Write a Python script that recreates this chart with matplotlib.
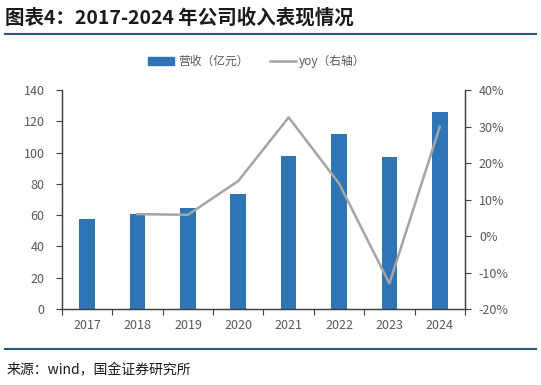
import matplotlib.pyplot as plt
from matplotlib.lines import Line2D
from matplotlib.patches import Patch
from matplotlib.ticker import FuncFormatter

plt.rcParams['font.family'] = ['Noto Sans CJK SC', 'DejaVu Sans']

years = ['2017', '2018', '2019', '2020', '2021', '2022', '2023', '2024']
revenue = [57.6, 60.8, 64.4, 73.6, 97.6, 111.9, 97.0, 125.7]    # 营收（亿元）
yoy = [None, 6.0, 5.8, 15.1, 32.5, 14.4, -13.0, 29.9]           # %

fig = plt.figure(figsize=(5.41, 3.85), dpi=100)
ax = fig.add_axes([0.1146, 0.1974, 0.7449, 0.5688])
ax2 = ax.twinx()

x = list(range(len(years)))
ax.bar(x, revenue, width=0.31, color='#2E75B6', zorder=2)
ax.set_xlim(-0.5, len(years) - 0.5)
ax.set_ylim(0, 140)
ax.set_yticks(range(0, 141, 20))
# ticks sit between categories, labels under the bars
ax.set_xticks([i - 0.5 for i in range(len(years) + 1)])
ax.set_xticklabels([])
ax.set_xticks(x, minor=True)
ax.set_xticklabels(years, minor=True)
ax.tick_params(axis='x', which='major', length=4, width=0.8, color='#404040')
ax.tick_params(axis='x', which='minor', length=0, pad=7, labelsize=9, labelcolor='#595959')
ax.tick_params(axis='y', length=4, width=0.8, color='#404040', labelsize=9, labelcolor='#595959', pad=8.5)

xs = [i for i, v in zip(x, yoy) if v is not None]
ys = [v for v in yoy if v is not None]
ax2.plot(xs, ys, color='#A5A5A5', lw=1.8, zorder=3)
ax2.set_ylim(-20, 40)
ax2.set_yticks(range(-20, 41, 10))
ax2.yaxis.set_major_formatter(FuncFormatter(lambda v, p: f'{v:.0f}%'))
ax2.tick_params(axis='y', length=4, width=0.8, color='#404040', labelsize=9, labelcolor='#595959', pad=6)

for a in (ax, ax2):
    a.spines['top'].set_visible(False)
    for s in ('left', 'right', 'bottom'):
        a.spines[s].set_color('#404040')
        a.spines[s].set_linewidth(0.9)

handles = [Patch(color='#2E75B6'), Line2D([], [], color='#A5A5A5', lw=1.8)]
fig.legend(handles, ['营收（亿元）', 'yoy（右轴）'], loc='center', bbox_to_anchor=(0.475, 0.84),
           ncol=2, frameon=False, fontsize=8.5, labelcolor='#595959', handlelength=2.2,
           handleheight=0.6, columnspacing=1.8, handletextpad=0.3)

fig.text(0.01, 0.953, '图表4：2017-2024 年公司收入表现情况', fontsize=14, fontweight='bold',
         fontstyle='italic', color='#1a1a1a', va='center')
fig.add_artist(Line2D([0.01, 0.99], [0.912, 0.912], color='#245B7E', lw=1.5))
fig.add_artist(Line2D([0.01, 0.99], [0.094, 0.094], color='#245B7E', lw=1.5))
fig.text(0.012, 0.039, '来源：wind，国金证券研究所', fontsize=10, color='#1a1a1a', va='center')

fig.savefig('out.png', dpi=100)
